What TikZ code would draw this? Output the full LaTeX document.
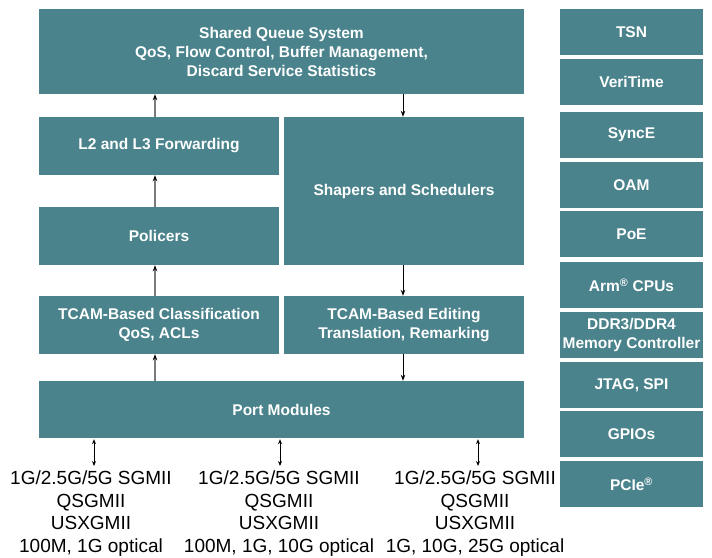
\documentclass[tikz,border=0pt]{standalone}
\usepackage{fontspec}
\setmainfont{Liberation Sans}
\usetikzlibrary{arrows.meta}
\definecolor{teal1}{HTML}{4A838C}
\definecolor{upgray}{HTML}{7A7A7A}
\begin{document}
\begin{tikzpicture}[x=1pt,y=-1pt,
  blk/.style={fill=teal1,draw=none,text=white,inner sep=0pt,align=center,
    font=\fontsize{15.5}{19}\selectfont\bfseries},
  side/.style={blk,minimum width=143pt,minimum height=46pt},
  uparr/.style={draw=upgray,line width=1.2pt,-{Stealth[length=6pt,width=4.5pt,color=black]}},
  dnarr/.style={draw=black,line width=1pt,-{Stealth[length=6pt,width=4.5pt]}},
  biarr/.style={draw=black,line width=0.9pt,{Stealth[length=5pt,width=4pt]}-{Stealth[length=5pt,width=4pt]}},
  iface/.style={inner sep=0pt,align=center,anchor=north,font=\fontsize{19}{22.5}\selectfont}]
\useasboundingbox (0,0) rectangle (712,557);
% main blocks
\node[blk,minimum width=485pt,minimum height=85pt] (sq) at (281.5,51.5)
  {Shared Queue System\\QoS, Flow Control, Buffer Management,\\Discard Service Statistics};
\node[blk,minimum width=240pt,minimum height=58pt] (l2) at (159,146) {L2 and L3 Forwarding};
\node[blk,minimum width=240pt,minimum height=148pt] (sh) at (404,191) {Shapers and Schedulers};
\node[blk,minimum width=240pt,minimum height=58pt] (pol) at (159,236) {Policers};
\node[blk,minimum width=240pt,minimum height=58pt] (tcc) at (159,325) {TCAM-Based Classification\\QoS, ACLs};
\node[blk,minimum width=240pt,minimum height=58pt] (tce) at (404,325) {TCAM-Based Editing\\Translation, Remarking};
\node[blk,minimum width=485pt,minimum height=57pt] (pm) at (281.5,409.5) {Port Modules};
% side column
\node[side] (tsn) at (631.5,32) {TSN};
\node[side] (vt) at (631.5,82) {VeriTime};
\node[side] (se) at (631.5,135) {SyncE};
\node[side] (oam) at (631.5,185) {OAM};
\node[side] (poe) at (631.5,234) {PoE};
\node[side] (arm) at (631.5,285) {Arm\textsuperscript{®} CPUs};
\node[side] (ddr) at (631.5,335) {DDR3/DDR4\\Memory Controller};
\node[side] (jtag) at (631.5,385) {JTAG, SPI};
\node[side] (gpio) at (631.5,434) {GPIOs};
\node[side] (pcie) at (631.5,484) {PCIe\textsuperscript{®}};
% interface texts
\node[iface] (t1) at (91,471) {1G/2.5G/5G SGMII\\QSGMII\\USXGMII\\100M, 1G optical};
\node[iface] (t2) at (279,471) {1G/2.5G/5G SGMII\\QSGMII\\USXGMII\\100M, 1G, 10G optical};
\node[iface] (t3) at (475,471) {1G/2.5G/5G SGMII\\QSGMII\\USXGMII\\1G, 10G, 25G optical};
% arrows
\coordinate (ux) at (155,0);
\coordinate (dx) at (403,0);
\draw[uparr] (pm.north -| ux) -- (tcc.south -| ux);
\draw[uparr] (tcc.north -| ux) -- (pol.south -| ux);
\draw[uparr] (pol.north -| ux) -- (l2.south -| ux);
\draw[uparr] (l2.north -| ux) -- (sq.south -| ux);
\draw[dnarr] (sq.south -| dx) -- (sh.north -| dx);
\draw[dnarr] (sh.south -| dx) -- (tce.north -| dx);
\draw[dnarr] (tce.south -| dx) -- (pm.north -| dx);
\coordinate (b1) at (94,0);
\coordinate (b2) at (280,0);
\coordinate (b3) at (478,0);
\draw[biarr] ([yshift=-1pt]pm.south -| b1) -- ([yshift=5pt]t1.north -| b1);
\draw[biarr] ([yshift=-1pt]pm.south -| b2) -- ([yshift=5pt]t2.north -| b2);
\draw[biarr] ([yshift=-1pt]pm.south -| b3) -- ([yshift=5pt]t3.north -| b3);
\end{tikzpicture}
\end{document}
